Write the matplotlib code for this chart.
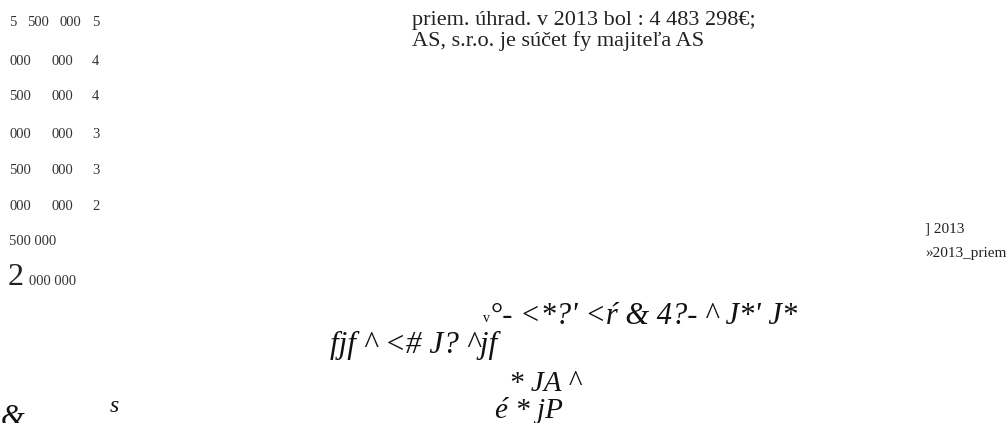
import matplotlib

matplotlib.use("Agg")
import matplotlib.pyplot as plt

W, H = 1007, 423

# left axis labels (as they came out of the source document), one row per line
AXIS_ROWS = [
    ["5", "500", "000", "5"],
    ["000", "000", "4"],
    ["500", "000", "4"],
    ["000", "000", "3"],
    ["500", "000", "3"],
    ["000", "000", "2"],
    ["500 000"],
]
AXIS_LAST_BIG = "2"
AXIS_LAST_SMALL = "000 000"

NOTE_LINES = [
    "priem. úhrad. v 2013 bol : 4 483 298€;",
    "AS, s.r.o. je súčet fy majiteľa AS",
]
LEGEND_LABELS = ["] 2013", "»2013_priem"]

GARBLED = [
    "°- <*?' <ŕ & 4?- ^ J*' J*",
    "fjf ^ <# J? ^jf",
    "* JA ^",
    "é * jP",
]
STRAY = ["&", "s", "v"]

SERIF = ["Liberation Serif", "DejaVu Serif"]


def put(fig, x, y, s, size, style="normal", color="#222222"):
    fig.text(x / W, 1 - y / H, s, fontsize=size, family=SERIF, style=style,
             color=color, ha="left", va="baseline")


fig = plt.figure(figsize=(W / 100, H / 100), dpi=100)
fig.patch.set_facecolor("white")

# left column
first_x = [9, 27, 59, 92]
other_x = [9, 51, 92]
base_y = [26.5, 64.5, 100, 138, 174, 210, 245]
for i, row in enumerate(AXIS_ROWS):
    xs = first_x if len(row) == 4 else (other_x if len(row) == 3 else [9])
    for x, tok in zip(xs, row):
        put(fig, x, base_y[i], tok, 10.5, color="#333333")
put(fig, 8, 285, AXIS_LAST_BIG, 23, color="#222222")
put(fig, 29, 285, AXIS_LAST_SMALL, 10.5, color="#333333")

# note at top
for i, line in enumerate(NOTE_LINES):
    put(fig, 412, 25 + i * 21, line, 16, color="#222222")

# legend-ish labels on the right
for i, lab in enumerate(LEGEND_LABELS):
    put(fig, 925, 232 + i * 25, lab, 11, color="#222222")

# garbled italic text
put(fig, 490, 324, GARBLED[0], 22, style="italic", color="#111111")
put(fig, 330, 353, GARBLED[1], 22.5, style="italic", color="#111111")
put(fig, 509, 391, GARBLED[2], 21, style="italic", color="#111111")
put(fig, 495, 418, GARBLED[3], 21, style="italic", color="#111111")
put(fig, 1, 426, STRAY[0], 22, style="italic", color="#111111")
put(fig, 110, 412, STRAY[1], 17, style="italic", color="#111111")
put(fig, 483, 322, STRAY[2], 10, color="#111111")

fig.savefig("out.png", dpi=100, facecolor=fig.get_facecolor())
